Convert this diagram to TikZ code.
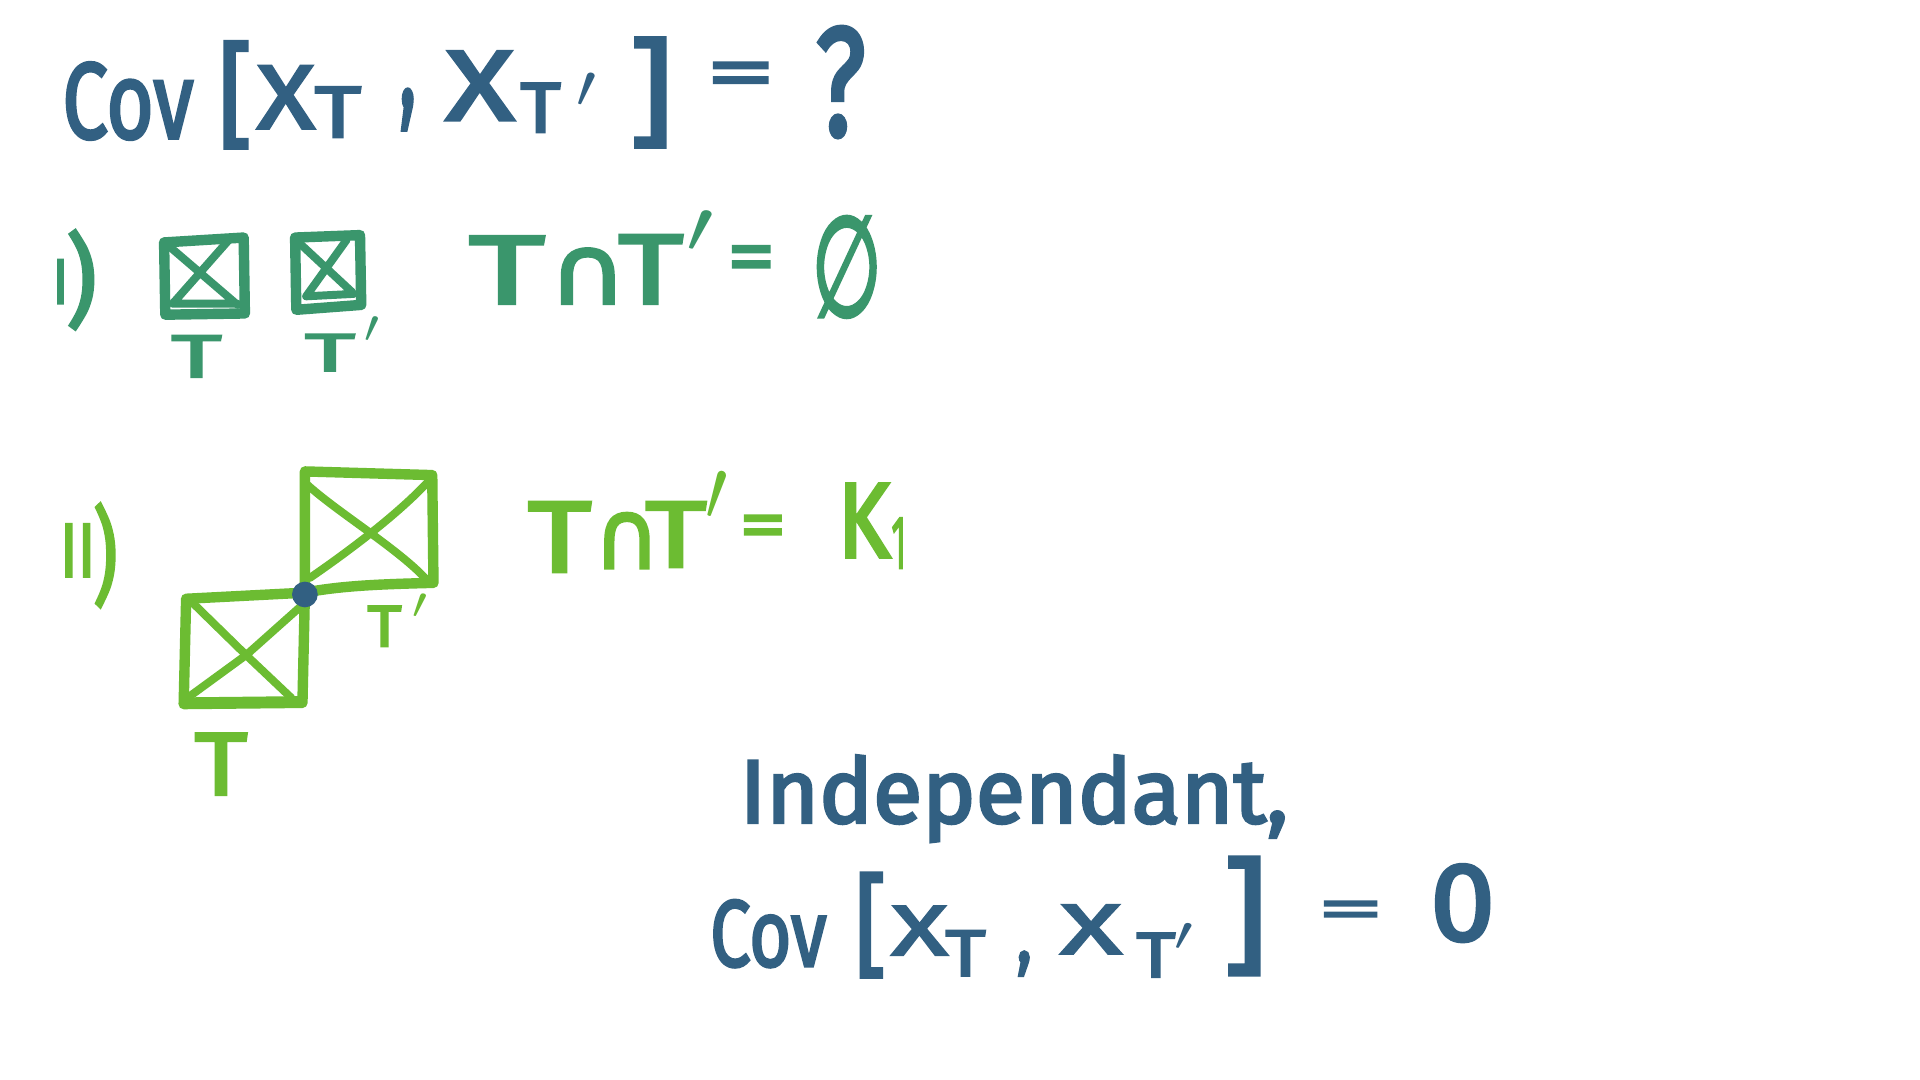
\documentclass[tikz,border=0pt]{standalone}
\usepackage{fontspec}
\setmainfont{Fira Sans}[FakeBold=3]
\newfontfamily\symf{DejaVu Sans}[FakeBold=3]
\usepackage{graphicx}
\definecolor{inkblue}{RGB}{50,96,130}
\definecolor{inkgreen}{RGB}{58,150,108}
\definecolor{inklime}{RGB}{108,188,50}
\tikzset{
  hand/.style={anchor=north west, inner sep=0pt, outer sep=0pt},
  boxline/.style={line width=8.5pt, line cap=round, line join=round},
  crossline/.style={line width=6.5pt, line cap=round, line join=round},
  dotnode/.style={circle, fill=inkblue, inner sep=0pt, minimum size=21pt}
}
\newcommand\hw[6]{\node[hand,text=#2] (#1) at (#3) {\resizebox*{#4pt}{#5pt}{#6}};}
\newcommand\pr{$\prime$}
\begin{document}
\begin{tikzpicture}[x=1pt,y=-1pt]
\fill[white] (0,0) rectangle (1568,882);
\useasboundingbox (0,0) rectangle (1568,882);

% ---- line 1 ----
\hw{c1}{inkblue}{51,51}{107}{63}{Cov}
\hw{lb1}{inkblue}{178,34}{28}{87}{[}
\hw{x1}{inkblue}{210,54}{47}{51}{X}
\hw{t1}{inkblue}{257,71}{38}{41}{T}
\hw{cm1}{inkblue}{326,73}{14}{33}{,}
\hw{x2}{inkblue}{364,42}{56}{56}{X}
\hw{t2}{inkblue}{425,68}{33}{40}{T}
\hw{p1}{inkblue}{471,60}{16}{28}{\pr}
\hw{rb1}{inkblue}{514,31}{36}{89}{]}
\hw{eq1}{inkblue}{577,51}{56}{29}{=}
\hw{q1}{inkblue}{666,22}{41}{90}{?}

% ---- case i ----
\hw{n1}{inkgreen}{43,212}{13}{36}{I}
\hw{pr1}{inkgreen}{54,188}{25}{81}{)}
\draw[boxline, inkgreen] (134,198) -- (199,194) -- (200,256) -- (135,257) -- cycle;
\draw[crossline, inkgreen] (138,201) -- (194,249) (186,197) -- (141,248) -- (194,248);
\draw[boxline, inkgreen] (241,194) -- (294,192) -- (295,249) -- (242,253) -- cycle;
\draw[crossline, inkgreen] (245,199) -- (288,239) (283,196) -- (250,242) -- (289,240);
\hw{bt1}{inkgreen}{140,274}{41}{34}{T}
\hw{bt2}{inkgreen}{249,273}{41}{30}{T}
\hw{bp2}{inkgreen}{298,259}{12}{21}{\pr}
\hw{s1}{inkgreen}{383,193}{62}{55}{T}
\hw{cap1}{inkgreen}{448,203}{64}{45}{\symf ∩}
\hw{s2}{inkgreen}{505,192}{53}{56}{T}
\hw{sp}{inkgreen}{561,172}{22}{34}{\pr}
\hw{eq2}{inkgreen}{594,201}{39}{30}{=}
\hw{emp}{inkgreen}{663,177}{57}{82}{\symf ∅}

% ---- case ii ----
\hw{n2}{inklime}{49,428}{29}{43}{II}
\hw{pr2}{inklime}{76,411}{20}{85}{)}
\draw[boxline, inklime] (249,385) -- (353,388) -- (354,476) .. controls (315,477) and (280,478) .. (249,484) -- cycle;
\draw[crossline, inklime] (250,395) .. controls (275,418) and (325,448) .. (348,473);
\draw[crossline, inklime] (351,392) .. controls (325,420) and (285,450) .. (253,472);
\draw[boxline, inklime] (152,489) -- (249,484) -- (247,574) -- (150,575) -- cycle;
\draw[boxline, line width=9pt, inklime] (152,574) -- (246,573);
\draw[crossline, inklime] (158,493) -- (201,535) -- (238,570);
\draw[crossline, inklime] (247,494) -- (201,535) -- (153,570);
\node[dotnode] (dot) at (249,485.5) {};
\hw{r1}{inklime}{431,410}{52}{57}{T}
\hw{cap2}{inklime}{485,419}{54}{45}{\symf ∩}
\hw{r2}{inklime}{527,410}{50}{53}{T}
\hw{rp}{inklime}{576,385}{18}{40}{\pr}
\hw{eq3}{inklime}{604,421}{38}{27}{=}
\hw{k}{inklime}{684,395}{43}{60}{K}
\hw{one}{inklime}{728,423}{12}{41}{1}
\hw{lt}{inklime}{159,599}{43}{50}{T}
\hw{ltp}{inklime}{300,495}{28}{33}{T}
\hw{ltpp}{inklime}{337,485}{12}{20}{\pr}

% ---- conclusion ----
\node[anchor=base west, inner sep=0pt, outer sep=0pt, text=inkblue] (ind) at (604,672) {\resizebox{448pt}{!}{Independant,}};
\hw{c2}{inkblue}{580,735}{95}{55}{Cov}
\hw{lb2}{inkblue}{698,713}{26}{85}{[}
\hw{x3}{inkblue}{728,740}{46}{40}{X}
\hw{t3}{inkblue}{772,760}{33}{37}{T}
\hw{cm2}{inkblue}{830,777}{13}{20}{,}
\hw{x4}{inkblue}{866,739}{50}{40}{X}
\hw{t4}{inkblue}{928,762}{32}{36}{T}
\hw{p4}{inkblue}{959,754}{15}{22}{\pr}
\hw{rb2}{inkblue}{999,700}{36}{96}{]}
\hw{eq4}{inkblue}{1076,736}{54}{22}{=}
\hw{z}{inkblue}{1168,706}{53}{63}{0}
\end{tikzpicture}
\end{document}
